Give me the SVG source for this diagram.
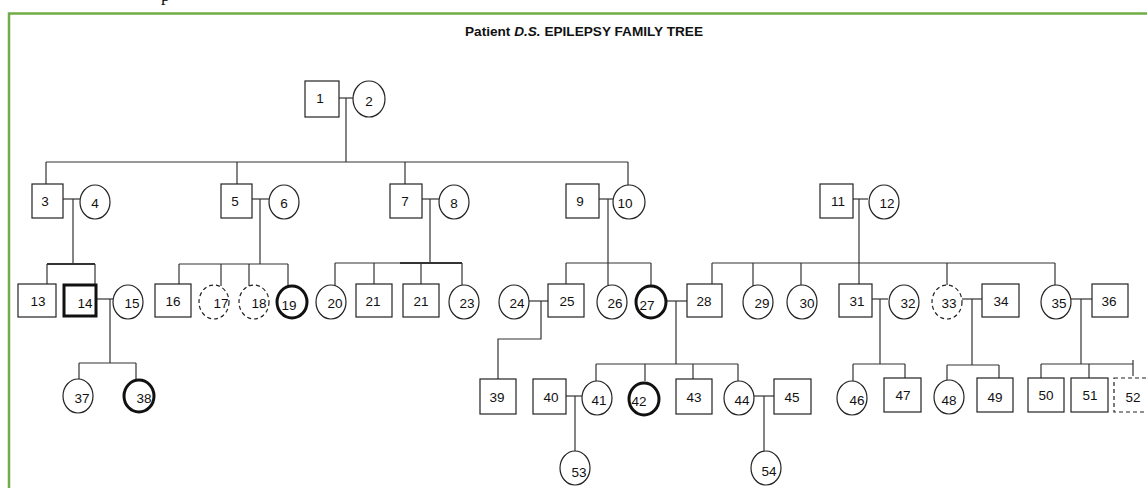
<svg xmlns="http://www.w3.org/2000/svg" width="1147" height="488" viewBox="0 0 1147 488">
<style>
.n{fill:#fff;stroke:#222;stroke-width:1.2}
.a{stroke-width:3;stroke:#111}
.d{stroke-dasharray:4 3}
.t{font-family:"Liberation Sans",Arial,sans-serif;font-size:13.5px;fill:#111;text-anchor:middle}
.c line,.c polyline{stroke:#333;stroke-width:1.2;fill:none}
</style>
<rect width="1147" height="488" fill="#fff"/>
<text x="161" y="1" font-family="Liberation Serif,serif" font-size="18" fill="#111">p</text>
<polyline points="9,488 9,13.5 1147,13.5" fill="none" stroke="#70AD47" stroke-width="2.5"/>
<text x="584" y="36" font-family="Liberation Sans,Arial,sans-serif" font-size="13.5" font-weight="bold" fill="#111" text-anchor="middle" textLength="238" lengthAdjust="spacingAndGlyphs">Patient <tspan font-style="italic">D.S.</tspan> EPILEPSY FAMILY TREE</text>
<g class="c" id="connectors">
<line x1="339" y1="98" x2="353" y2="98"/>
<line x1="346" y1="98" x2="346" y2="162"/>
<line x1="46" y1="162" x2="628" y2="162"/>
<line x1="46" y1="162" x2="46" y2="184"/>
<line x1="237" y1="162" x2="237" y2="184"/>
<line x1="405" y1="162" x2="405" y2="184"/>
<line x1="628" y1="162" x2="628" y2="185"/>
<line x1="63" y1="199" x2="80" y2="199"/>
<line x1="73" y1="199" x2="73" y2="264"/>
<line x1="47" y1="264" x2="95" y2="264" style="stroke-width:2"/>
<line x1="47" y1="264" x2="47" y2="284"/>
<line x1="95" y1="264" x2="95" y2="284"/>
<line x1="97" y1="299" x2="113" y2="299"/>
<line x1="110" y1="299" x2="110" y2="363"/>
<line x1="79" y1="363" x2="136" y2="363"/>
<line x1="79" y1="363" x2="79" y2="379"/>
<line x1="136" y1="363" x2="136" y2="379"/>
<line x1="252" y1="199" x2="269" y2="199"/>
<line x1="260" y1="199" x2="260" y2="264"/>
<line x1="179" y1="264" x2="288" y2="264"/>
<line x1="179" y1="264" x2="179" y2="284"/>
<line x1="221" y1="264" x2="221" y2="286"/>
<line x1="249" y1="264" x2="249" y2="286"/>
<line x1="288" y1="264" x2="288" y2="286"/>
<line x1="422" y1="199" x2="439" y2="199"/>
<line x1="430" y1="199" x2="430" y2="263"/>
<line x1="335" y1="263" x2="462" y2="263"/>
<line x1="400" y1="263" x2="462" y2="263" style="stroke-width:2"/>
<line x1="335" y1="263" x2="335" y2="286"/>
<line x1="374" y1="263" x2="374" y2="284"/>
<line x1="421" y1="263" x2="421" y2="284"/>
<line x1="462" y1="263" x2="462" y2="286"/>
<line x1="599" y1="199" x2="613" y2="199"/>
<line x1="608" y1="199" x2="608" y2="285"/>
<line x1="566" y1="263" x2="651" y2="263"/>
<line x1="566" y1="263" x2="566" y2="284"/>
<line x1="651" y1="263" x2="651" y2="285"/>
<line x1="529" y1="301" x2="548" y2="301"/>
<polyline points="541,301 541,339 498,339 498,379"/>
<line x1="667" y1="301" x2="687" y2="301"/>
<line x1="676" y1="301" x2="676" y2="364"/>
<line x1="596" y1="364" x2="738" y2="364"/>
<line x1="596" y1="364" x2="596" y2="381"/>
<line x1="645" y1="364" x2="645" y2="381"/>
<line x1="693" y1="364" x2="693" y2="379"/>
<line x1="738" y1="364" x2="738" y2="381"/>
<line x1="566" y1="396" x2="582" y2="396"/>
<line x1="575" y1="396" x2="575" y2="452"/>
<line x1="754" y1="396" x2="774" y2="396"/>
<line x1="764" y1="396" x2="764" y2="452"/>
<line x1="853" y1="199" x2="868" y2="199"/>
<line x1="859" y1="199" x2="859" y2="284"/>
<line x1="712" y1="263" x2="1055" y2="263"/>
<line x1="712" y1="263" x2="712" y2="284"/>
<line x1="753" y1="263" x2="753" y2="286"/>
<line x1="801" y1="263" x2="801" y2="286"/>
<line x1="947" y1="263" x2="947" y2="286"/>
<line x1="1055" y1="263" x2="1055" y2="286"/>
<line x1="872" y1="299" x2="888" y2="299"/>
<line x1="880" y1="299" x2="880" y2="364"/>
<line x1="853" y1="364" x2="905" y2="364"/>
<line x1="853" y1="364" x2="853" y2="382"/>
<line x1="905" y1="364" x2="905" y2="378"/>
<line x1="962" y1="299" x2="982" y2="299"/>
<line x1="972" y1="299" x2="972" y2="365"/>
<line x1="947" y1="365" x2="999" y2="365"/>
<line x1="947" y1="365" x2="947" y2="381"/>
<line x1="999" y1="365" x2="999" y2="378"/>
<line x1="1071" y1="299" x2="1092" y2="299"/>
<line x1="1081" y1="299" x2="1081" y2="364"/>
<line x1="1041" y1="364" x2="1133" y2="364"/>
<line x1="1041" y1="364" x2="1041" y2="378"/>
<line x1="1089" y1="364" x2="1089" y2="378"/>
<line x1="1133" y1="360" x2="1133" y2="376"/>
</g>
<g id="n1"><rect class="n" x="305" y="81" width="34" height="36"/><text class="t" x="320" y="103">1</text></g>
<g id="n2"><ellipse class="n" cx="369" cy="99" rx="16" ry="18"/><text class="t" x="369" y="106">2</text></g>
<g id="n3"><rect class="n" x="32" y="184" width="31" height="34"/><text class="t" x="45" y="206">3</text></g>
<g id="n4"><ellipse class="n" cx="95" cy="202" rx="15" ry="17"/><text class="t" x="95" y="208">4</text></g>
<g id="n5"><rect class="n" x="221" y="184" width="31" height="34"/><text class="t" x="235" y="206">5</text></g>
<g id="n6"><ellipse class="n" cx="284" cy="202" rx="15" ry="17"/><text class="t" x="284" y="208">6</text></g>
<g id="n7"><rect class="n" x="390" y="184" width="32" height="34"/><text class="t" x="405" y="206">7</text></g>
<g id="n8"><ellipse class="n" cx="454" cy="202" rx="15" ry="17"/><text class="t" x="454" y="208">8</text></g>
<g id="n9"><rect class="n" x="566" y="184" width="33" height="34"/><text class="t" x="580" y="206">9</text></g>
<g id="n10"><ellipse class="n" cx="629" cy="202" rx="16" ry="17"/><text class="t" x="625" y="208">10</text></g>
<g id="n11"><rect class="n" x="820" y="184" width="33" height="34"/><text class="t" x="838" y="206">11</text></g>
<g id="n12"><ellipse class="n" cx="884" cy="202" rx="15" ry="17"/><text class="t" x="887" y="208">12</text></g>
<g id="n13"><rect class="n" x="18" y="284" width="38" height="33"/><text class="t" x="38" y="306">13</text></g>
<g id="n14"><rect class="n a" x="64" y="285" width="32" height="31"/><text class="t" x="85" y="308">14</text></g>
<g id="n15"><ellipse class="n" cx="128" cy="302" rx="15" ry="17"/><text class="t" x="132" y="308">15</text></g>
<g id="n16"><rect class="n" x="155" y="284" width="36" height="33"/><text class="t" x="173" y="306">16</text></g>
<g id="n17"><ellipse class="n d" cx="214" cy="302" rx="15" ry="17"/><text class="t" x="221" y="308">17</text></g>
<g id="n18"><ellipse class="n d" cx="254" cy="302" rx="15" ry="17"/><text class="t" x="259" y="308">18</text></g>
<g id="n19"><ellipse class="n a" cx="292" cy="302" rx="15" ry="16"/><text class="t" x="289" y="310">19</text></g>
<g id="n20"><ellipse class="n" cx="331" cy="302" rx="15" ry="17"/><text class="t" x="335" y="308">20</text></g>
<g id="n21"><rect class="n" x="356" y="284" width="36" height="33"/><text class="t" x="373" y="306">21</text></g>
<g id="n22"><rect class="n" x="403" y="284" width="36" height="33"/><text class="t" x="421" y="306">21</text></g>
<g id="n23"><ellipse class="n" cx="464" cy="302" rx="15" ry="17"/><text class="t" x="467" y="308">23</text></g>
<g id="n24"><ellipse class="n" cx="514" cy="302" rx="15" ry="17"/><text class="t" x="517" y="308">24</text></g>
<g id="n25"><rect class="n" x="548" y="284" width="36" height="33"/><text class="t" x="567" y="306">25</text></g>
<g id="n26"><ellipse class="n" cx="612" cy="302" rx="15" ry="17"/><text class="t" x="615" y="308">26</text></g>
<g id="n27"><ellipse class="n a" cx="651" cy="302" rx="15" ry="16"/><text class="t" x="647" y="310">27</text></g>
<g id="n28"><rect class="n" x="687" y="284" width="35" height="33"/><text class="t" x="704" y="306">28</text></g>
<g id="n29"><ellipse class="n" cx="758" cy="302" rx="15" ry="17"/><text class="t" x="762" y="308">29</text></g>
<g id="n30"><ellipse class="n" cx="802" cy="302" rx="15" ry="17"/><text class="t" x="807" y="308">30</text></g>
<g id="n31"><rect class="n" x="839" y="284" width="33" height="33"/><text class="t" x="857" y="306">31</text></g>
<g id="n32"><ellipse class="n" cx="904" cy="302" rx="15" ry="17"/><text class="t" x="908" y="308">32</text></g>
<g id="n33"><ellipse class="n d" cx="947" cy="302" rx="15" ry="17"/><text class="t" x="949" y="308">33</text></g>
<g id="n34"><rect class="n" x="982" y="284" width="37" height="33"/><text class="t" x="1001" y="306">34</text></g>
<g id="n35"><ellipse class="n" cx="1056" cy="302" rx="15" ry="17"/><text class="t" x="1059" y="308">35</text></g>
<g id="n36"><rect class="n" x="1092" y="284" width="36" height="33"/><text class="t" x="1109" y="306">36</text></g>
<g id="n37"><ellipse class="n" cx="78" cy="396" rx="15" ry="17"/><text class="t" x="82" y="403">37</text></g>
<g id="n38"><ellipse class="n a" cx="139" cy="396" rx="15" ry="16"/><text class="t" x="144" y="403">38</text></g>
<g id="n39"><rect class="n" x="480" y="379" width="36" height="35"/><text class="t" x="497" y="402">39</text></g>
<g id="n40"><rect class="n" x="533" y="379" width="33" height="35"/><text class="t" x="551" y="402">40</text></g>
<g id="n41"><ellipse class="n" cx="597" cy="398" rx="15" ry="17"/><text class="t" x="599" y="405">41</text></g>
<g id="n42"><ellipse class="n a" cx="644" cy="399" rx="15" ry="16"/><text class="t" x="639" y="406">42</text></g>
<g id="n43"><rect class="n" x="676" y="379" width="36" height="35"/><text class="t" x="694" y="402">43</text></g>
<g id="n44"><ellipse class="n" cx="739" cy="398" rx="15" ry="17"/><text class="t" x="742" y="405">44</text></g>
<g id="n45"><rect class="n" x="774" y="379" width="37" height="35"/><text class="t" x="792" y="402">45</text></g>
<g id="n46"><ellipse class="n" cx="852" cy="398" rx="15" ry="17"/><text class="t" x="857" y="405">46</text></g>
<g id="n47"><rect class="n" x="884" y="378" width="37" height="34"/><text class="t" x="903" y="400">47</text></g>
<g id="n48"><ellipse class="n" cx="949" cy="397" rx="15" ry="17"/><text class="t" x="949" y="405">48</text></g>
<g id="n49"><rect class="n" x="977" y="378" width="36" height="34"/><text class="t" x="995" y="402">49</text></g>
<g id="n50"><rect class="n" x="1028" y="378" width="36" height="34"/><text class="t" x="1046" y="400">50</text></g>
<g id="n51"><rect class="n" x="1071" y="378" width="37" height="34"/><text class="t" x="1090" y="400">51</text></g>
<g id="n52"><rect class="n d" x="1114" y="378" width="40" height="34"/><text class="t" x="1133" y="402">52</text></g>
<g id="n53"><ellipse class="n" cx="575" cy="468" rx="15" ry="17"/><text class="t" x="579" y="477">53</text></g>
<g id="n54"><ellipse class="n" cx="766" cy="468" rx="15" ry="17"/><text class="t" x="769" y="476">54</text></g>
</svg>
